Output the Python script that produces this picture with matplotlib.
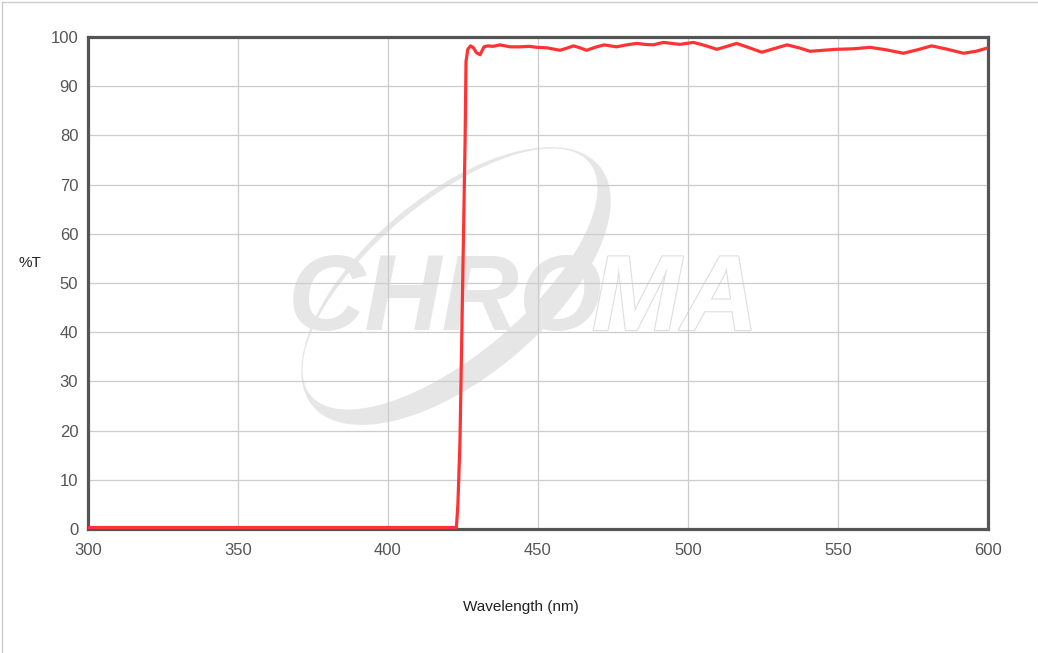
import matplotlib
matplotlib.use("Agg")
import matplotlib.pyplot as plt
from matplotlib.patches import Ellipse
from matplotlib.lines import Line2D
import matplotlib.patheffects as pe

# ---- data ----
wavelength = [300, 350, 400, 420, 422.8, 423.3, 424.0, 425.7, 426.0, 426.6, 427.5,
              428.5, 429.5, 430.7, 432.0, 433.3, 435.0, 437.3, 440.7, 444.0, 447.0,
              449.6, 453.0, 457.3, 459.5, 461.8, 464.0, 466.2, 469.0, 472.0, 476.2,
              479.5, 482.9, 485.5, 488.4, 491.8, 494.5, 497.3, 501.8, 505.5, 509.6,
              513.0, 516.2, 520.5, 524.6, 528.5, 533.0, 537.0, 540.7, 545.0, 549.6,
              555.0, 560.7, 566.0, 571.8, 576.5, 581.2, 586.5, 591.8, 596.0, 600.0]
transmission = [0.3, 0.3, 0.3, 0.3, 0.3, 5.0, 18.0, 79.0, 95.0, 97.5, 98.2,
                97.8, 96.8, 96.4, 98.0, 98.2, 98.1, 98.4, 98.0, 98.0, 98.1,
                97.9, 97.8, 97.3, 97.7, 98.2, 97.8, 97.3, 97.9, 98.4, 98.0,
                98.4, 98.7, 98.5, 98.4, 98.9, 98.7, 98.5, 98.9, 98.3, 97.5,
                98.1, 98.7, 97.8, 96.9, 97.6, 98.4, 97.8, 97.1, 97.3, 97.5,
                97.6, 97.9, 97.4, 96.7, 97.4, 98.2, 97.5, 96.7, 97.1, 97.8]
x_ticks = [300, 350, 400, 450, 500, 550, 600]
y_ticks = [0, 10, 20, 30, 40, 50, 60, 70, 80, 90, 100]
x_label = "Wavelength (nm)"
y_label = "%T"
watermark_filled = "CHRO"
watermark_outline = "MA"

W, H = 1038, 653
fig = plt.figure(figsize=(W / 100, H / 100), dpi=100)
fig.patch.set_facecolor("white")

# background axes in pixel coordinates for the watermark
bg = fig.add_axes([0, 0, 1, 1], zorder=0)
bg.set_xlim(0, W)
bg.set_ylim(H, 0)
bg.axis("off")

wm = "#e6e6e6"
outer = Ellipse((456, 286), 374, 182, angle=-40, facecolor=wm, edgecolor="none")
inner = Ellipse((450, 279), 363, 153, angle=-40, facecolor="white", edgecolor="none")
bg.add_patch(outer)
bg.add_patch(inner)
bg.text(288, 330, watermark_filled, fontsize=77, fontweight="bold", fontstyle="italic",
        family="Liberation Sans", color=wm, ha="left", va="baseline")
bg.text(592, 330, watermark_outline, fontsize=77, fontweight="bold", fontstyle="italic",
        family="Liberation Sans", color="white", ha="left", va="baseline",
        path_effects=[pe.withStroke(linewidth=1.6, foreground="#dedede")])

# figure border (top and left)
fig.add_artist(Line2D([1.5 / W, 1.5 / W], [0, 1 - 1.5 / H], transform=fig.transFigure,
                      color="#cccccc", lw=1))
fig.add_artist(Line2D([1.5 / W, 1], [1 - 1.5 / H, 1 - 1.5 / H], transform=fig.transFigure,
                      color="#cccccc", lw=1))

left, right, top, bottom = 88, 988, 37, 529
ax = fig.add_axes([left / W, 1 - bottom / H, (right - left) / W, (bottom - top) / H], zorder=1)
ax.set_facecolor("none")

ax.plot(wavelength, transmission, color="#ff3333", lw=2.3, solid_joinstyle="round", zorder=3)

ax.set_xlim(300, 600)
ax.set_ylim(0, 100)
ax.set_xticks(x_ticks)
ax.set_yticks(y_ticks)
ax.grid(True, color="#cccccc", lw=0.9)
ax.set_axisbelow(True)
ax.tick_params(length=0, labelsize=12, labelcolor="#555555")
ax.tick_params(axis="y", pad=7)
ax.tick_params(axis="x", pad=10)
for lab in ax.get_xticklabels() + ax.get_yticklabels():
    lab.set_family("Liberation Sans")
for s in ax.spines.values():
    s.set_color("#555555")
    s.set_linewidth(2.3)

fig.text(30 / W, 1 - 263 / H, y_label, ha="center", va="center", fontsize=11,
         family="Liberation Sans", color="#222222")
fig.text(521 / W, 1 - 607 / H, x_label, ha="center", va="center", fontsize=11,
         family="Liberation Sans", color="#222222")

fig.savefig("out.png", dpi=100, facecolor="white")
